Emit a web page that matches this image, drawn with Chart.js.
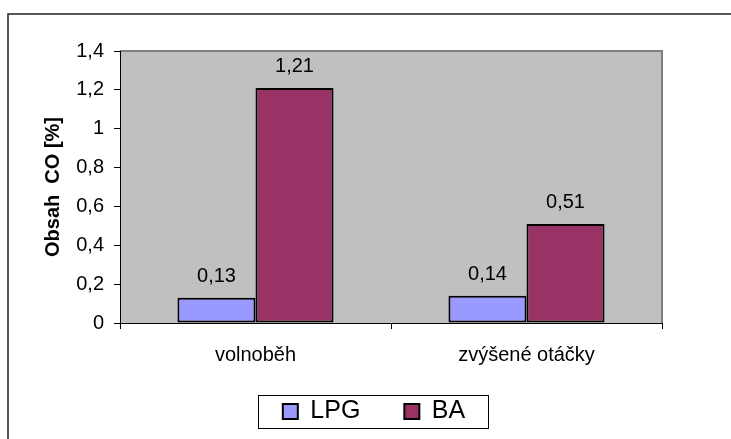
<!DOCTYPE html>
<html>
<head>
<meta charset="utf-8">
<script src="https://cdn.jsdelivr.net/npm/chart.js@4/dist/chart.umd.min.js"></script>
<style>
  html, body { margin: 0; padding: 0; background: #fff; }
  #wrap { width: 731px; height: 439px; }
</style>
</head>
<body>
<div id="wrap"><canvas id="c" width="731" height="439"></canvas></div>
<script>
// Emission measurement: CO content at idle and at raised engine speed
const categories = ['volnoběh', 'zvýšené otáčky'];
const lpgValues = [0.13, 0.14];
const baValues = [1.21, 0.51];
const seriesNames = ['LPG', 'BA'];
const yTicks = [0, 0.2, 0.4, 0.6, 0.8, 1, 1.2, 1.4];
const yTitle = 'Obsah  CO [%]';

const FONT = "'Liberation Sans', Arial, sans-serif";
const fmt = v => String(parseFloat(Number(v).toFixed(2))).replace('.', ',');

const PLOT_BOTTOM = 323;
const LEGEND_SPACE = 56;

// Background, outer frame and the grey plot area
const plotDecor = {
  id: 'plotDecor',
  beforeDraw(chart) {
    const { ctx, chartArea: a } = chart;
    ctx.save();
    ctx.fillStyle = '#fff';
    ctx.fillRect(0, 0, chart.width, chart.height);
    ctx.strokeStyle = '#222';
    ctx.lineWidth = 1.5;
    ctx.beginPath();
    ctx.moveTo(chart.width, 14);
    ctx.lineTo(8, 14);
    ctx.lineTo(8, chart.height);
    ctx.stroke();
    ctx.fillStyle = '#c0c0c0';
    ctx.fillRect(a.left, a.top, a.right - a.left, a.bottom - a.top);
    ctx.strokeStyle = '#808080';
    ctx.lineWidth = 2;
    ctx.beginPath();
    ctx.moveTo(a.left, a.top);
    ctx.lineTo(a.right, a.top);
    ctx.lineTo(a.right, a.bottom);
    ctx.stroke();
    ctx.restore();
  }
};

// Value labels above each bar
const valueLabels = {
  id: 'valueLabels',
  afterDatasetsDraw(chart) {
    const { ctx } = chart;
    ctx.save();
    ctx.font = '20px ' + FONT;
    ctx.fillStyle = '#000';
    ctx.textAlign = 'center';
    ctx.textBaseline = 'alphabetic';
    chart.data.datasets.forEach((ds, i) => {
      chart.getDatasetMeta(i).data.forEach((bar, j) => {
        ctx.fillText(fmt(ds.data[j]), bar.x, bar.y - 16);
      });
    });
    ctx.restore();
  }
};

// Legend: placement under the plot and surrounding box
const LEGEND_CX = 352;
const LEGEND_CY = 411.5;
const legendBox = {
  id: 'legendBox',
  afterLayout(chart) {
    const lg = chart.legend;
    if (!lg) return;
    const pad = lg.options.labels.padding;
    const hb = lg.legendHitBoxes[0];
    const itemH = hb ? hb.height : 24;
    const dx = LEGEND_CX - (lg.left + lg.right) / 2 + pad / 2;
    lg.left += dx;
    lg.right += dx;
    const top = LEGEND_CY - pad - itemH / 2;
    lg.top = top;
    lg.bottom = top + 2 * pad + itemH;
  },
  afterDraw(chart) {
    const lg = chart.legend;
    const hbs = lg.legendHitBoxes;
    if (!hbs || !hbs.length) return;
    const first = hbs[0], last = hbs[hbs.length - 1];
    const cy = first.top + first.height / 2;
    const x0 = first.left - 25;
    const x1 = last.left + last.width + 23;
    const { ctx } = chart;
    ctx.save();
    ctx.strokeStyle = '#000';
    ctx.lineWidth = 1;
    ctx.strokeRect(Math.round(x0) + 0.5, Math.round(cy - 16.5) + 0.5, Math.round(x1 - x0), 33);
    ctx.restore();
  }
};

new Chart(document.getElementById('c'), {
  type: 'bar',
  data: {
    labels: categories,
    datasets: [
      { label: seriesNames[0], data: lpgValues, backgroundColor: '#9999ff', borderColor: '#000', borderWidth: 2, borderSkipped: false },
      { label: seriesNames[1], data: baValues, backgroundColor: '#993366', borderColor: '#000', borderWidth: 2, borderSkipped: false }
    ]
  },
  options: {
    responsive: false,
    animation: false,
    devicePixelRatio: 1,
    layout: { padding: { top: 51, right: 69, left: 0, bottom: 0 } },
    datasets: { bar: { categoryPercentage: 0.576, barPercentage: 1 } },
    scales: {
      x: {
        grid: { display: true, drawOnChartArea: false, drawTicks: true, tickLength: 6, color: '#000', offset: true },
        border: { display: true, color: '#000', width: 1 },
        ticks: { color: '#000', font: { family: FONT, size: 20 }, padding: 14, maxRotation: 0 },
        afterFit(scale) {
          const lg = scale.chart.legend;
          scale.height = 439 - PLOT_BOTTOM - (lg ? lg.height : LEGEND_SPACE);
        }
      },
      y: {
        min: 0,
        max: 1.4,
        afterBuildTicks(scale) { scale.ticks = yTicks.map(v => ({ value: v })); },
        grid: { display: true, drawOnChartArea: false, drawTicks: true, tickLength: 6, color: '#000' },
        border: { display: true, color: '#000', width: 1 },
        ticks: { color: '#000', font: { family: FONT, size: 20 }, padding: 10, callback: v => fmt(v) },
        title: { display: true, text: yTitle, color: '#000', font: { family: FONT, size: 20, weight: 'bold' }, padding: { top: 41, bottom: 0 } },
        afterFit(scale) { scale.width = 120; }
      }
    },
    plugins: {
      legend: {
        position: 'bottom',
        maxHeight: LEGEND_SPACE,
        labels: { color: '#000', font: { family: FONT, size: 25 }, boxWidth: 15, boxHeight: 15, padding: 44 }
      },
      tooltip: { enabled: false }
    }
  },
  plugins: [plotDecor, valueLabels, legendBox]
});
</script>
</body>
</html>
